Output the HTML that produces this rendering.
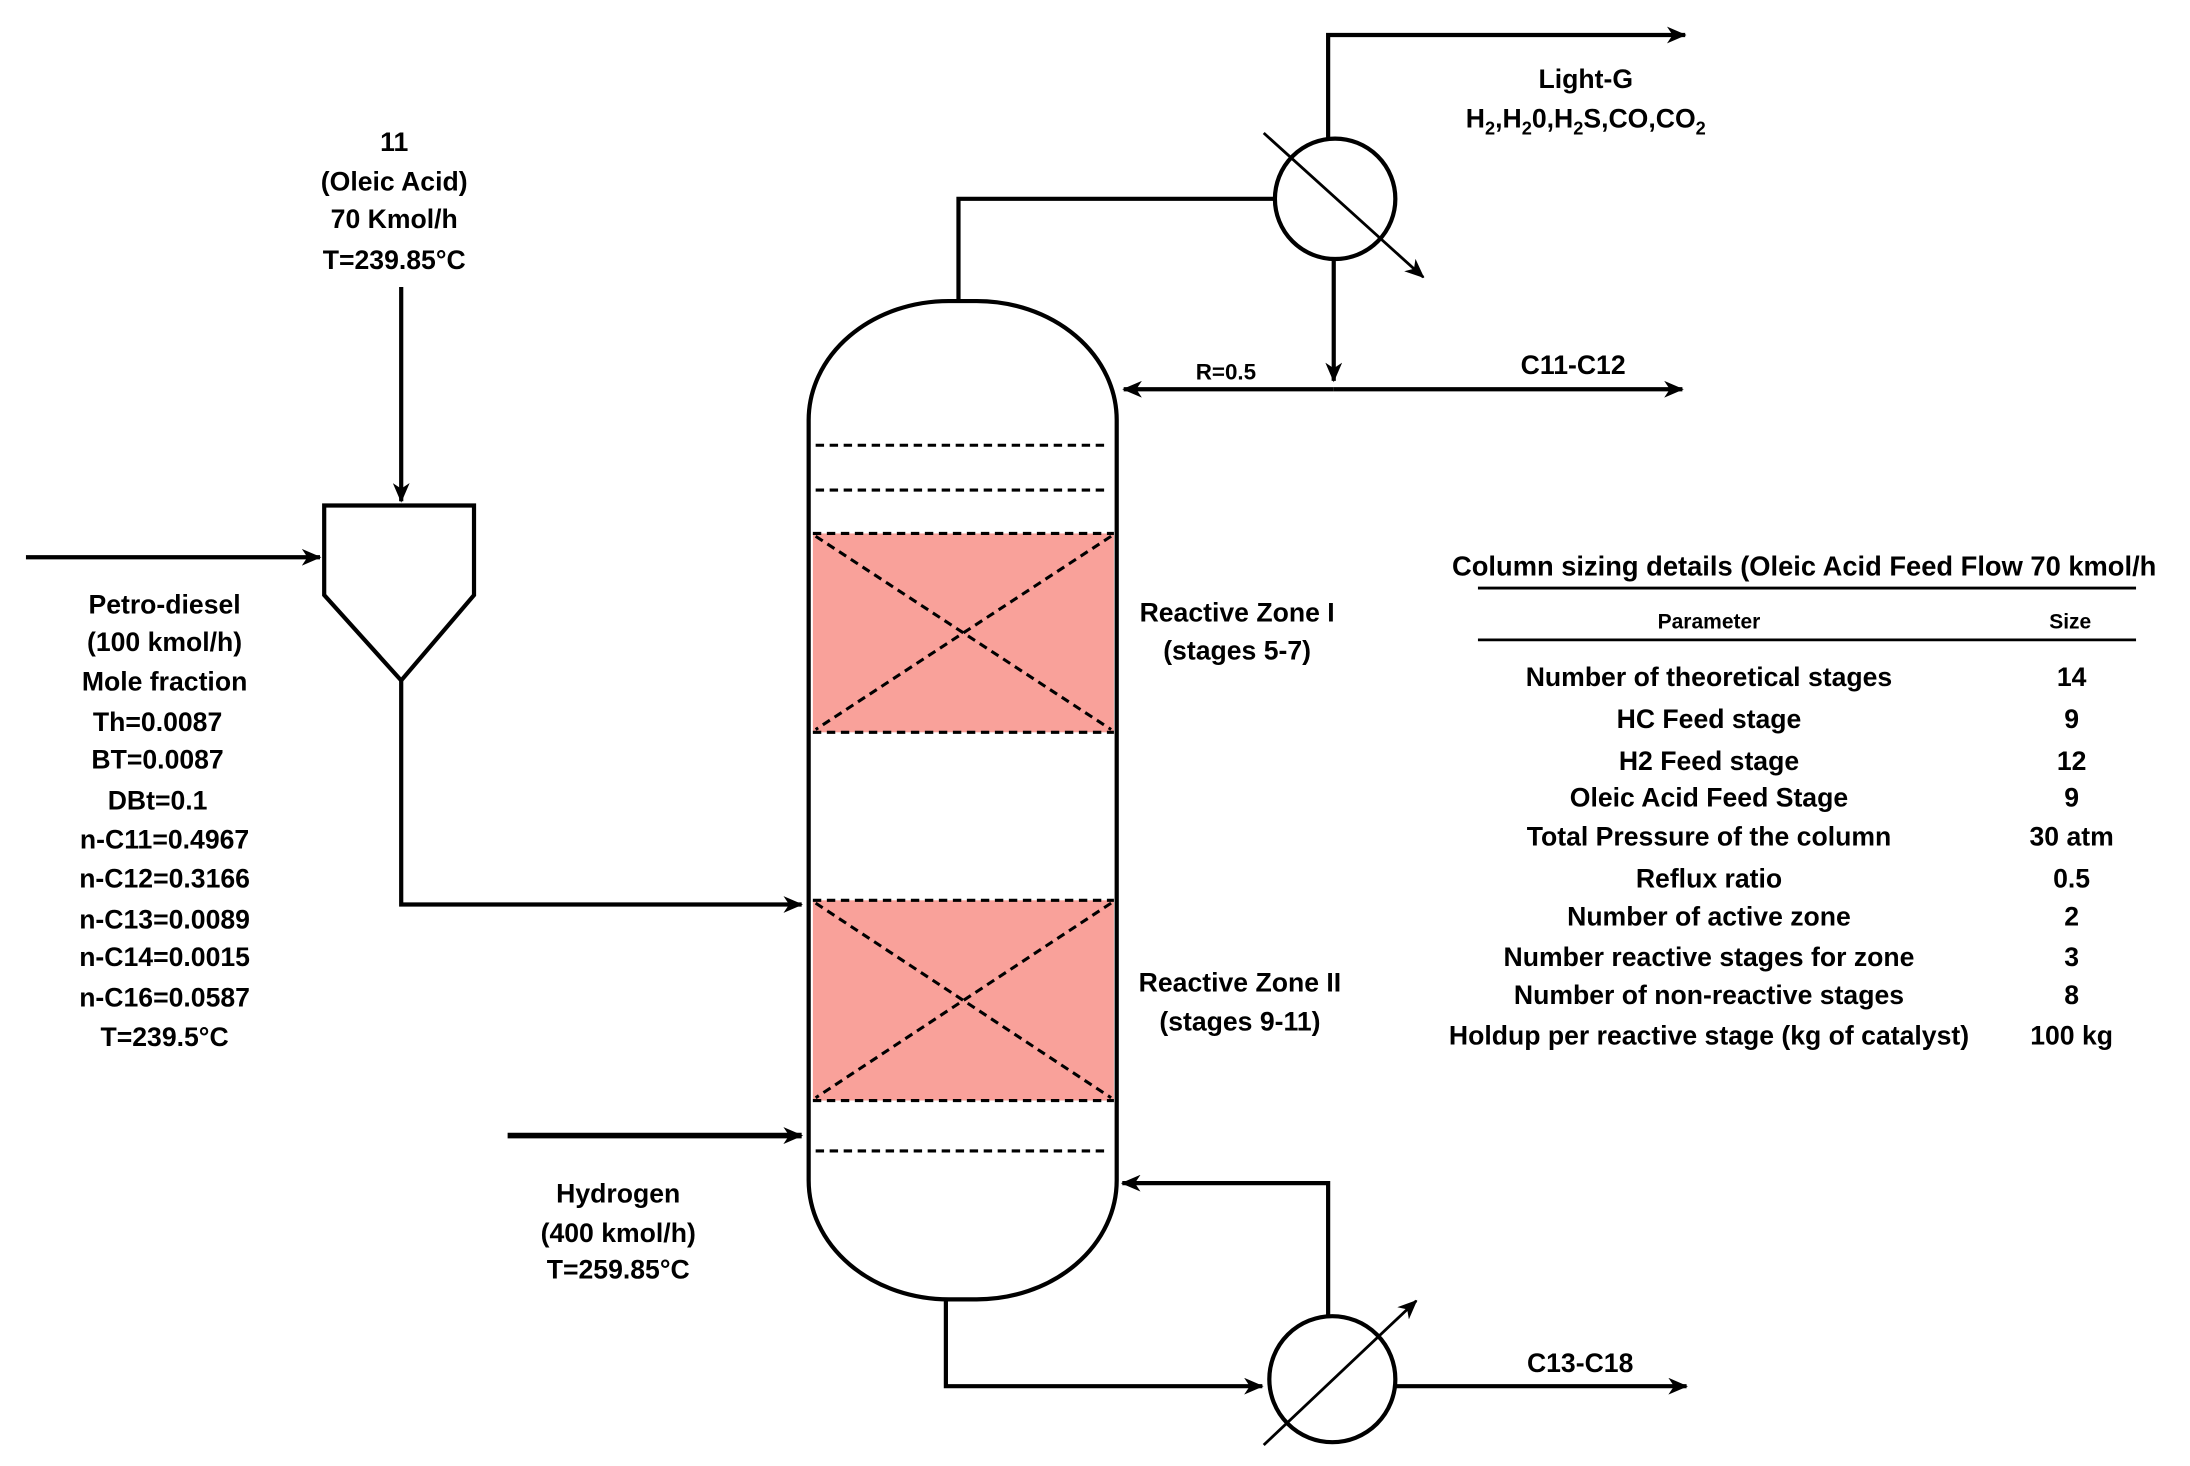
<!DOCTYPE html>
<html><head><meta charset="utf-8"><style>
html,body{margin:0;padding:0;background:#fff;}
svg{display:block;}
text{font-family:"Liberation Sans",sans-serif;font-weight:bold;fill:#000;text-anchor:middle;}
</style></head><body>
<svg width="2190" height="1466" viewBox="0 0 1563 1047" xmlns="http://www.w3.org/2000/svg">
<defs>
<marker id="a" markerWidth="14" markerHeight="12" refX="13" refY="6" orient="auto" markerUnits="userSpaceOnUse">
<path d="M0,0 L14,6 L0,12 L4,6 Z" fill="#000"/></marker>
</defs>
<g stroke="#000" stroke-width="3" fill="none">
<rect x="577" y="215" width="220" height="713" rx="100" ry="85" fill="#fff"/>
<rect x="580" y="381" width="215" height="142" fill="#f9a19a" stroke="none"/>
<rect x="580" y="643" width="215" height="143" fill="#f9a19a" stroke="none"/>
<g stroke-dasharray="6,4" stroke-width="2.2">
<line x1="582" y1="318" x2="790" y2="318"/><line x1="582" y1="350" x2="790" y2="350"/>
<line x1="582" y1="822" x2="790" y2="822"/>
<line x1="580" y1="381" x2="795" y2="381"/><line x1="580" y1="523" x2="795" y2="523"/>
<line x1="582" y1="383" x2="793" y2="521"/><line x1="793" y1="383" x2="582" y2="521"/>
<line x1="580" y1="643" x2="795" y2="643"/><line x1="580" y1="786" x2="795" y2="786"/>
<line x1="582" y1="645" x2="793" y2="784"/><line x1="793" y1="645" x2="582" y2="784"/>
</g>
<polyline points="684,215 684,142 910,142"/>
<circle cx="953" cy="142" r="43"/>
<line x1="902" y1="95" x2="1016" y2="198" marker-end="url(#a)" stroke-width="2"/>
<polyline points="948,99 948,25 1203,25" marker-end="url(#a)"/>
<line x1="952" y1="186" x2="952" y2="272" marker-end="url(#a)"/>
<line x1="952" y1="278" x2="1201" y2="278" marker-end="url(#a)"/>
<line x1="952" y1="278" x2="802" y2="278" marker-end="url(#a)"/>
<line x1="286" y1="205" x2="286" y2="358" marker-end="url(#a)"/>
<polygon points="231,361 338,361 338,425 286,486 231,425" fill="#fff"/>
<line x1="18" y1="398" x2="228" y2="398" marker-end="url(#a)"/>
<polyline points="286,486 286,646 572,646" marker-end="url(#a)"/>
<line x1="362" y1="811" x2="572" y2="811" stroke-width="4" marker-end="url(#a)"/>
<polyline points="675,928 675,990 901,990" marker-end="url(#a)"/>
<circle cx="951" cy="985" r="45"/>
<line x1="902" y1="1032" x2="1011" y2="929" marker-end="url(#a)" stroke-width="2"/>
<polyline points="948,940 948,845 801,845" marker-end="url(#a)"/>
<line x1="996" y1="990" x2="1204" y2="990" marker-end="url(#a)"/>
<line x1="1055" y1="420" x2="1525" y2="420" stroke-width="2"/>
<line x1="1055" y1="457" x2="1525" y2="457" stroke-width="2"/>
</g>
<g font-size="19">
<text x="1132" y="63">Light-G</text>
<text x="1132" y="91">H<tspan font-size="13" dy="5">2</tspan><tspan dy="-5">,H</tspan><tspan font-size="13" dy="5">2</tspan><tspan dy="-5">0,H</tspan><tspan font-size="13" dy="5">2</tspan><tspan dy="-5">S,CO,CO</tspan><tspan font-size="13" dy="5">2</tspan></text>
<text x="1123" y="267">C11-C12</text>
<text x="1128" y="980">C13-C18</text>
<text x="875" y="271" font-size="16">R=0.5</text>
<text x="281" y="108">11</text><text x="281" y="136">(Oleic Acid)</text>
<text x="281" y="163">70 Kmol/h</text><text x="281" y="192">T=239.85°C</text>
<text x="117" y="438">Petro-diesel</text><text x="117" y="465">(100 kmol/h)</text>
<text x="117" y="493">Mole fraction</text><text x="112" y="522">Th=0.0087</text>
<text x="112" y="549">BT=0.0087</text><text x="112" y="578">DBt=0.1</text>
<text x="117" y="606">n-C11=0.4967</text><text x="117" y="634">n-C12=0.3166</text>
<text x="117" y="663">n-C13=0.0089</text><text x="117" y="690">n-C14=0.0015</text>
<text x="117" y="719">n-C16=0.0587</text><text x="117" y="747">T=239.5°C</text>
<text x="441" y="859">Hydrogen</text><text x="441" y="887">(400 kmol/h)</text><text x="441" y="913">T=259.85°C</text>
<text x="883" y="444">Reactive Zone I</text><text x="883" y="471">(stages 5-7)</text>
<text x="885" y="708">Reactive Zone II</text><text x="885" y="736">(stages 9-11)</text>
<text x="1288" y="411" font-size="19.5">Column sizing details (Oleic Acid Feed Flow 70 kmol/h</text>
<text x="1220" y="449" font-size="15" font-weight="normal">Parameter</text>
<text x="1478" y="449" font-size="15" font-weight="normal">Size</text>
<text x="1220" y="490">Number of theoretical stages</text><text x="1479" y="490">14</text>
<text x="1220" y="520">HC Feed stage</text><text x="1479" y="520">9</text>
<text x="1220" y="550">H2 Feed stage</text><text x="1479" y="550">12</text>
<text x="1220" y="576">Oleic Acid Feed Stage</text><text x="1479" y="576">9</text>
<text x="1220" y="604">Total Pressure of the column</text><text x="1479" y="604">30 atm</text>
<text x="1220" y="634">Reflux ratio</text><text x="1479" y="634">0.5</text>
<text x="1220" y="661">Number of active zone</text><text x="1479" y="661">2</text>
<text x="1220" y="690">Number reactive stages for zone</text><text x="1479" y="690">3</text>
<text x="1220" y="717">Number of non-reactive stages</text><text x="1479" y="717">8</text>
<text x="1220" y="746">Holdup per reactive stage (kg of catalyst)</text><text x="1479" y="746">100 kg</text>
</g>
</svg>
</body></html>
